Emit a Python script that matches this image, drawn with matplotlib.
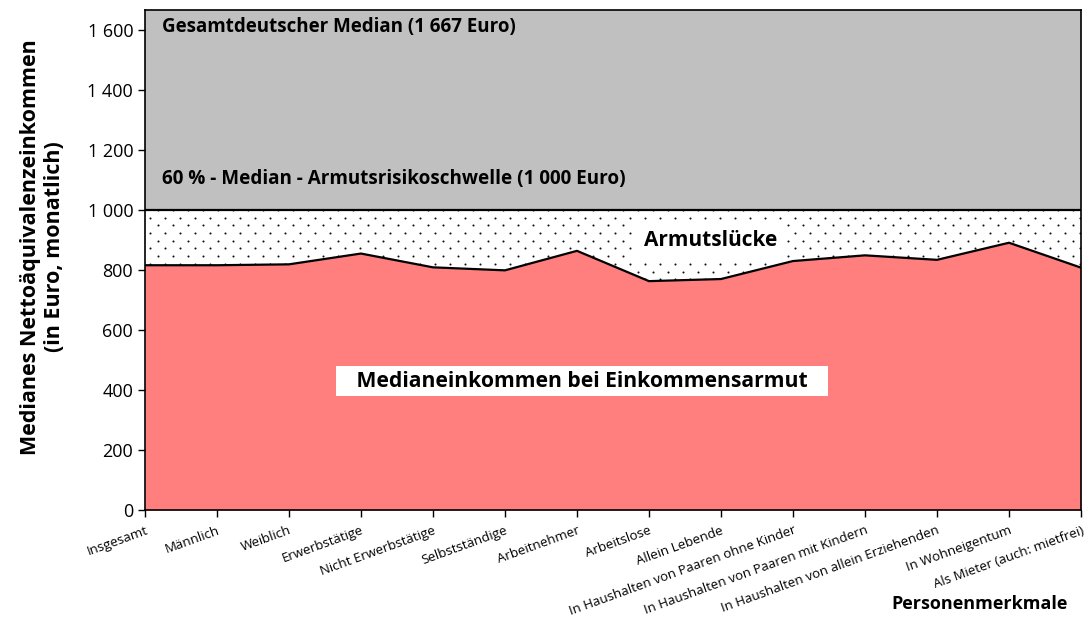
import matplotlib
matplotlib.use("Agg")
import numpy as np
import matplotlib.pyplot as plt
from matplotlib.ticker import FuncFormatter
from matplotlib.transforms import IdentityTransform

plt.rcParams['font.family'] = ['Open Sans', 'DejaVu Sans']

categories = [
    "Insgesamt", "Männlich", "Weiblich", "Erwerbstätige", "Nicht Erwerbstätige",
    "Selbstständige", "Arbeitnehmer", "Arbeitslose", "Allein Lebende",
    "In Haushalten von Paaren ohne Kinder", "In Haushalten von Paaren mit Kindern",
    "In Haushalten von allein Erziehenden", "In Wohneigentum",
    "Als Mieter (auch: mietfrei)",
]
median_poor = [816, 816, 819, 855, 809, 799, 864, 763, 770, 830, 849, 834, 891, 808]
median_all = 1667
poverty_line = 1000
yticks = [0, 200, 400, 600, 800, 1000, 1200, 1400, 1600]

W, H = 1085, 618
fig = plt.figure(figsize=(W / 100, H / 100), dpi=100)
ax = fig.add_axes([0.1336, 0.1748, 0.8627, 0.809])

x = list(range(len(categories)))
ax.fill_between(x, poverty_line, median_all, color="#c0c0c0", lw=0)
gap = ax.fill_between(x, median_poor, poverty_line, facecolor="white", lw=0)
ax.fill_between(x, 0, median_poor, color="#ff7f7f", lw=0)

# dotted texture for the gap area (staggered dot grid in pixels, clipped to the gap)
rows = np.arange(0, H, 7.7)
px, py = [], []
for i, r in enumerate(rows):
    cols = np.arange(7.5 * (i % 2), W, 15)
    px.extend(cols)
    py.extend([r] * len(cols))
dots = ax.scatter(px, py, s=2.2, color="#111111", lw=0, transform=IdentityTransform(),
                  zorder=2)
dots.set_clip_path(gap.get_paths()[0], ax.transData)

ax.plot(x, median_poor, color="black", lw=1.6, zorder=3)
ax.axhline(poverty_line, color="black", lw=1.6, zorder=3)

ax.set_xlim(0, len(categories) - 1)
ax.set_ylim(0, median_all)
ax.set_yticks(yticks)
ax.yaxis.set_major_formatter(FuncFormatter(lambda v, p: f"{int(v):,}".replace(",", " ")))
ax.set_xticks(x)
ax.set_xticklabels(categories, rotation=20, ha="right", rotation_mode="anchor", fontsize=9.5)
ax.tick_params(axis="y", labelsize=13, length=5, width=1)
ax.tick_params(axis="x", length=5, width=1, pad=5)
for s in ax.spines.values():
    s.set_linewidth(1.2)

ax.set_ylabel("Medianes Nettoäquivalenzeinkommen\n(in Euro, monatlich)",
              fontsize=15.5, fontweight="bold", linespacing=1.2)
ax.yaxis.set_label_coords(-0.0855, 0.526)

ax.text(0.24, 1612, "Gesamtdeutscher Median (1 667 Euro)", fontsize=13.5,
        fontweight="bold", va="center", ha="left", zorder=4)
ax.text(0.24, 1104, "60 % - Median - Armutsrisikoschwelle (1 000 Euro)", fontsize=13.6,
        fontweight="bold", va="center", ha="left", zorder=4)
ax.text(7.85, 897, "Armutslücke", fontsize=15, fontweight="bold", va="center", ha="center",
        bbox=dict(facecolor="white", edgecolor="none", pad=5), zorder=4)
ax.text(6.07, 430, "   Medianeinkommen bei Einkommensarmut   ", fontsize=15.2,
        fontweight="bold", va="center", ha="center",
        bbox=dict(facecolor="white", edgecolor="none", pad=3), zorder=4)

fig.text(0.984, 0.008, "Personenmerkmale", fontsize=13, fontweight="bold",
         ha="right", va="bottom")

fig.savefig("out.png", dpi=100)
